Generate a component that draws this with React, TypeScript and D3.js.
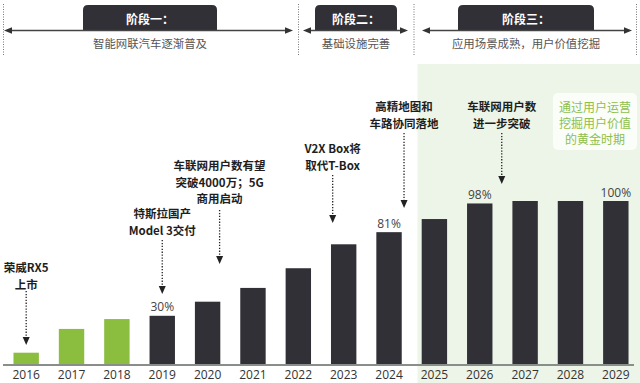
import React from "react";
import * as d3 from "d3";

const years = ["2016","2017","2018","2019","2020","2021","2022","2023","2024","2025","2026","2027","2028","2029"];
const penetration = [7.5, 22, 28, 30, 38.6, 47, 59, 73.6, 81, 89, 98.5, 100, 100, 100];
const barPhase = ["early","early","early","main","main","main","main","main","main","main","main","main","main","main"];
const valueLabelYears = ["2019", "2024", "2026", "2029"];
const valueLabels = ["30%", "81%", "98%", "100%"];

const stageTitles = ["阶段一：", "阶段二：", "阶段三："];
const stageSubtitles = ["智能网联汽车逐渐普及", "基础设施完善", "应用场景成熟，用户价值挖掘"];

const annotationYears = ["2016", "2019", "2020", "2023", "2024", "2026"];
const annotationTexts = [
  ["荣威RX5", "上市"],
  ["特斯拉国产", "Model 3交付"],
  ["车联网用户数有望", "突破4000万；5G", "商用启动"],
  ["V2X Box将", "取代T-Box"],
  ["高精地图和", "车路协同落地"],
  ["车联网用户数", "进一步突破"],
];
const calloutLines = ["通过用户运营", "挖掘用户价值", "的黄金时期"];

// layout (positions only)
const W = 640, H = 383;
const BASE = 365;
const annLayout = [
  { dx: 0, textY: 267, a0: 291, a1: 345 },
  { dx: 0, textY: 213, a0: 240, a1: 294 },
  { dx: 12, textY: 165, a0: 210, a1: 264 },
  { dx: -11, textY: 148, a0: 175, a1: 223 },
  { dx: 15, textY: 106, a0: 133, a1: 208 },
  { dx: 22, textY: 106, a0: 133, a1: 184 },
];
const stageLayout = [
  { x0: 4, x1: 293, tab0: 83, tab1: 217 },
  { x0: 303, x1: 408, tab0: 315, tab1: 397 },
  { x0: 422, x1: 632, tab0: 458, tab1: 594 },
];
const dividers = [3.5, 298.5, 414, 636.5];

const DARK = "#303036";
const GREEN = "#8bbd3f";
const CJK = "'Noto Sans CJK SC', 'Open Sans', sans-serif";
const LATIN = "'Open Sans', 'Noto Sans CJK SC', sans-serif";

function tabPath(x0: number, x1: number, y0: number, y1: number, r: number) {
  return `M${x0},${y1} L${x0},${y0 + r} Q${x0},${y0} ${x0 + r},${y0} L${x1 - r},${y0} Q${x1},${y0} ${x1},${y0 + r} L${x1},${y1} Z`;
}

function DottedArrow({ x, y0, y1 }: { x: number; y0: number; y1: number }) {
  return (
    <g>
      <line x1={x} x2={x} y1={y0} y2={y1 - 7} stroke="#222" strokeWidth={1.3} strokeDasharray="1.3,1.6" />
      <path d={`M${x - 3.5},${y1 - 8} L${x + 3.5},${y1 - 8} L${x},${y1} Z`} fill="#222" />
    </g>
  );
}

export default function App() {
  const x = d3.scaleBand<string>().domain(years).range([3.5, 638.5]).paddingInner(0.44).paddingOuter(0.22);
  const y = d3.scaleLinear().domain([0, 100]).range([BASE, 201]);
  const bw = x.bandwidth();
  const cx = (yr: string) => (x(yr) as number) + bw / 2;
  const greenStart = 417.5;

  return (
    <svg width={W} height={H} style={{ position: "absolute", left: 0, top: 0, background: "#fff" }}>
      {/* green forecast background */}
      <rect x={greenStart} y={64} width={W - greenStart} height={H - 64} fill="#edf5e8" />

      {/* header */}
      {dividers.map((d, i) => (
        <line key={i} x1={d} x2={d} y1={4} y2={55} stroke="#777" strokeWidth={1} strokeDasharray="1,1.5" />
      ))}
      {stageLayout.map((s, i) => (
        <g key={i}>
          <path d={tabPath(s.tab0, s.tab1, 5, 30.5, 5)} fill={DARK} />
          <text x={(s.tab0 + s.tab1) / 2} y={18} fill="#fff" fontFamily={CJK} fontSize={12} fontWeight={700} textAnchor="middle" dominantBaseline="central">{stageTitles[i]}</text>
          <line x1={s.x0 + 6} x2={s.x1 - 6} y1={30.5} y2={30.5} stroke="#444" strokeWidth={1.3} />
          <path d={`M${s.x0},30.5 L${s.x0 + 8},27.3 L${s.x0 + 8},33.7 Z`} fill="#333" />
          <path d={`M${s.x1},30.5 L${s.x1 - 8},27.3 L${s.x1 - 8},33.7 Z`} fill="#333" />
          <text x={(s.tab0 + s.tab1) / 2} y={43} fill="#555" fontFamily={CJK} fontSize={11.4} textAnchor="middle" dominantBaseline="central">{stageSubtitles[i]}</text>
        </g>
      ))}

      {/* bars */}
      {years.map((yr, i) => (
        <rect key={yr} x={x(yr)} y={y(penetration[i])} width={bw} height={BASE - y(penetration[i])} fill={barPhase[i] === "early" ? GREEN : DARK} />
      ))}

      {/* axis */}
      <line x1={3} x2={634} y1={BASE} y2={BASE} stroke="#8a8e8a" strokeWidth={2} />
      {years.map((yr) => (
        <text key={yr} x={cx(yr)} y={374.5} fill="#333" fontFamily={LATIN} fontSize={12} textAnchor="middle" dominantBaseline="central">{yr}</text>
      ))}

      {/* value labels */}
      {valueLabelYears.map((yr, i) => {
        const v = penetration[years.indexOf(yr)];
        return (
          <text key={yr} x={cx(yr)} y={y(v) - 9} fill="#444" fontFamily={LATIN} fontSize={12} textAnchor="middle" dominantBaseline="central">{valueLabels[i]}</text>
        );
      })}

      {/* annotations */}
      {annotationYears.map((yr, i) => {
        const L = annLayout[i];
        const ax = cx(yr) + L.dx;
        return (
          <g key={yr}>
            {annotationTexts[i].map((t, j) => (
              <text key={j} x={ax} y={L.textY + j * 16.5} fill="#1e1e1e" fontFamily={CJK} fontSize={11.5} fontWeight={700} textAnchor="middle" dominantBaseline="central">{t}</text>
            ))}
            <DottedArrow x={ax} y0={L.a0} y1={L.a1} />
          </g>
        );
      })}

      {/* callout */}
      <rect x={553} y={93} width={84} height={57} rx={5} fill="#fbfdf9" />
      {calloutLines.map((t, j) => (
        <text key={j} x={595} y={106 + j * 16.3} fill="#8dbf4a" fontFamily={CJK} fontSize={12} textAnchor="middle" dominantBaseline="central">{t}</text>
      ))}
    </svg>
  );
}
